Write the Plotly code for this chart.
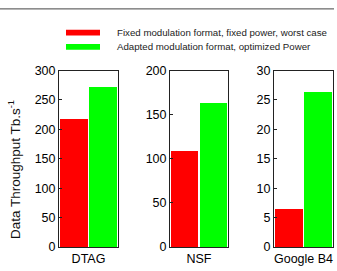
import plotly.graph_objects as go

categories = ["DTAG", "NSF", "Google B4"]
series_names = ["Fixed modulation format, fixed power, worst case",
                "Adapted modulation format, optimized Power"]
fixed_vals = [218, 109, 6.6]
adapted_vals = [272, 164, 26.4]
y_max = [300, 200, 30]
y_dtick = [50, 50, 5]
colors = ["#ff0000", "#00ff00"]

W, H = 337, 271
x_domains = [(59/W, 118/W), (170/W, 228/W), (274/W, 333/W)]
y_domain = (1 - 253/H, 1 - 67/H)
FONT = "Liberation Sans, Arial, sans-serif"
TICK = dict(size=12.5, family=FONT, color="black")

fig = go.Figure()
for i, cat in enumerate(categories):
    xa = "x" if i == 0 else f"x{i+1}"
    ya = "y" if i == 0 else f"y{i+1}"
    for j, vals in enumerate([fixed_vals, adapted_vals]):
        fig.add_trace(go.Bar(x=[j], y=[vals[i]], width=0.94,
                             marker=dict(color=colors[j], line=dict(width=0)),
                             xaxis=xa, yaxis=ya, showlegend=False))
    axkw = dict(showline=True, linecolor="#222", linewidth=1, mirror=True,
                showgrid=False, zeroline=False)
    fig.layout[("xaxis" if i == 0 else f"xaxis{i+1}")] = dict(
        domain=x_domains[i], anchor=ya, range=[-0.49, 1.49],
        tickvals=[0.5], ticktext=[cat], ticks="", tickfont=TICK, **axkw)
    fig.layout[("yaxis" if i == 0 else f"yaxis{i+1}")] = dict(
        domain=y_domain, anchor=xa, range=[0, y_max[i]], dtick=y_dtick[i],
        ticks="inside", ticklen=3, tickcolor="#222", tickfont=TICK, **axkw)

# y axis title as annotation
fig.add_annotation(xref="paper", yref="paper", x=14/W, y=1 - 172/H,
                   text="Data Throughput Tb.s<sup>-1</sup>", textangle=-90,
                   showarrow=False, xanchor="center", yanchor="middle",
                   font=dict(size=13.5, family=FONT, color="#111"))

# legend (drawn manually)
legend_rows = [27, 42]
for j, name in enumerate(series_names):
    yc = 1 - legend_rows[j]/H
    fig.add_shape(type="rect", xref="paper", yref="paper",
                  x0=66/W, x1=100/W, y0=yc - 3/H, y1=yc + 3/H,
                  fillcolor=colors[j], line=dict(width=0))
    fig.add_annotation(xref="paper", yref="paper", x=115/W, y=yc, text=name,
                       showarrow=False, xanchor="left", yanchor="middle",
                       font=dict(size=9.7, family=FONT, color="#222"))

# top frame line
fig.add_shape(type="line", xref="paper", yref="paper", x0=0, x1=334/W,
              y0=1 - 2/H, y1=1 - 2/H, line=dict(color="#444", width=1))

fig.update_layout(width=W, height=H, margin=dict(l=0, r=0, t=0, b=0),
                  paper_bgcolor="white", plot_bgcolor="white", bargap=0)
fig.write_html("out.html")
